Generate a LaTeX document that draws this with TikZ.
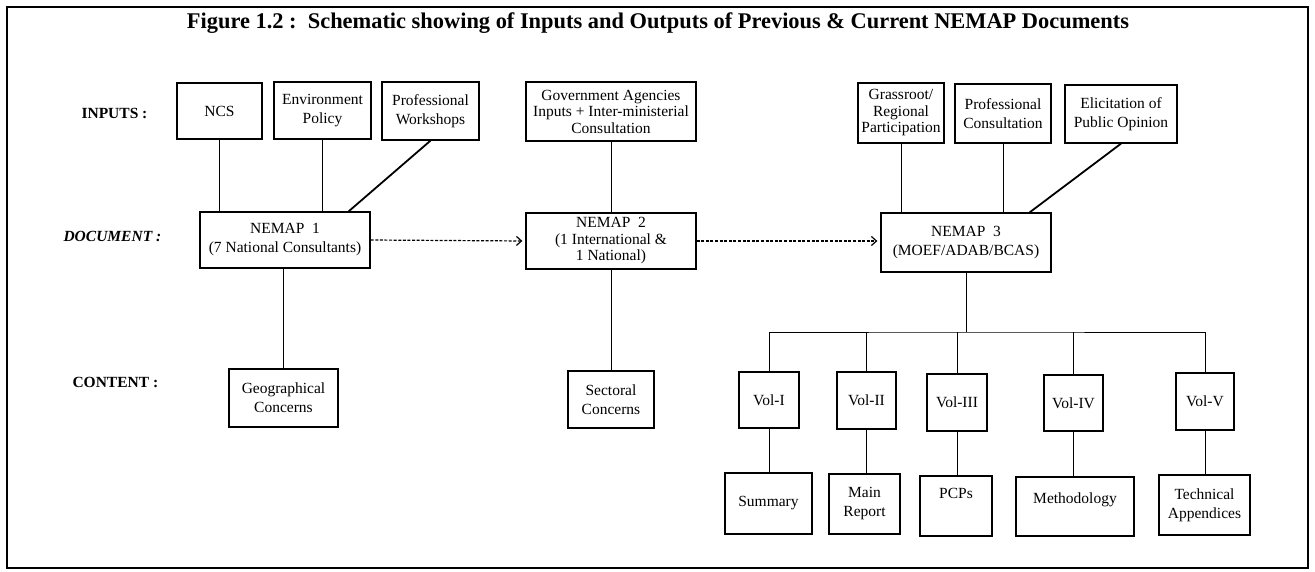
\documentclass[tikz,border=0pt]{standalone}
\usepackage{fontspec}
\setmainfont{Liberation Serif}
\usetikzlibrary{arrows.meta}

% box given by its corners: \boxat[opts]{name}{x1}{y1}{x2}{y2}{text};
\newcommand\boxat[6][]{%
  \node[box,#1,minimum width={#5-#3},minimum height={#6-#4}] (#2)
    at ({(#3+#5)/2},{(#4+#6)/2})}

\begin{document}
\begin{tikzpicture}[x=1pt,y=-1pt,
  box/.style={draw,line width=1.3pt,inner sep=0pt,align=center,
    font=\fontsize{15.5}{19}\selectfont},
  tight/.style={font=\fontsize{15.5}{16.5}\selectfont},
  link/.style={line width=1pt},
  slant/.style={line width=1.8pt},
  flow/.style={line width=1.2pt,dash pattern=on 3pt off 1.6pt,shorten >=3pt,
    -{Straight Barb[length=5pt,width=9pt,line width=1.2pt]}},
  rowlabel/.style={anchor=west,font=\fontsize{15.5}{18}\selectfont\bfseries}]

\useasboundingbox (0,0) rectangle (1315,571);
\draw[line width=1.5pt] (7,7) rectangle (1308,568);

\node[font=\fontsize{22.4}{26}\selectfont\bfseries] (title) at (658,23)
  {Figure 1.2 :\ \ Schematic showing of Inputs and Outputs of Previous \& Current NEMAP Documents};

% row labels
\node[rowlabel] (lin) at (78,113) {INPUTS :};
\node[rowlabel,font=\fontsize{15.5}{18}\selectfont\bfseries\itshape] (ldoc) at (60,236) {DOCUMENT :};
\node[rowlabel] (lcon) at (69,382) {CONTENT :};

% inputs
\boxat{ncs}{177}{83}{262}{139}{NCS};
\boxat{env}{274}{82}{371}{139}{Environment\\Policy};
\boxat{wshop}{382}{82}{479}{140}{Professional\\Workshops};
\boxat[tight]{gov}{526}{82}{696}{141}{Government Agencies\\Inputs + Inter-ministerial\\Consultation};
\boxat[tight]{grass}{858}{83}{944}{143}{Grassroot/\\Regional\\Participation};
\boxat{pcons}{955}{84}{1051}{143}{Professional\\Consultation};
\boxat{elicit}{1065}{85}{1177}{143}{Elicitation of\\Public Opinion};

% documents
\boxat{nemap1}{200}{212}{370}{268}{NEMAP\ \ 1\\(7 National Consultants)};
\boxat[tight]{nemap2}{526}{213}{696}{269}{NEMAP\ \ 2\\(1 International \&\\1 National)};
\boxat{nemap3}{881}{213}{1051}{272}{NEMAP\ \ 3\\(MOEF/ADAB/BCAS)};

% contents
\boxat{geo}{229}{369}{338}{427}{Geographical\\Concerns};
\boxat{sect}{568}{371}{654}{428}{Sectoral\\Concerns};
\boxat{v1}{739}{372}{799}{428}{Vol-I};
\boxat{v2}{837}{372}{896}{429}{Vol-II};
\boxat{v3}{927}{374}{987}{431}{Vol-III};
\boxat{v4}{1044}{375}{1103}{431}{Vol-IV};
\boxat{v5}{1176}{373}{1234}{430}{Vol-V};
\boxat{summ}{725}{473}{812}{534}{Summary};
\boxat{mainr}{829}{474}{900}{534}{Main\\Report};
\boxat[text depth=25pt]{pcps}{920}{476}{992}{536}{PCPs};
\boxat[text depth=17pt]{meth}{1016}{477}{1134}{536}{Methodology};
\boxat{tech}{1159}{475}{1250}{535}{Technical\\Appendices};

% inputs to documents
\draw[link] (ncs.south) -- (ncs.south |- nemap1.north);
\draw[link] (env.south) -- (env.south |- nemap1.north);
\draw[slant] (wshop.south) -- ([xshift=-22pt]nemap1.north east);
\draw[link] (gov.south) -- (gov.south |- nemap2.north);
\draw[link] (grass.south) -- (grass.south |- nemap3.north);
\draw[link] (pcons.south) -- (pcons.south |- nemap3.north);
\draw[slant] (elicit.south) -- ([xshift=-22pt]nemap3.north east);

% document sequence
\draw[flow] (nemap1.east) -- (nemap2.west);
\draw[flow] (nemap2.east) -- (nemap2.east -| nemap3.west);

% documents to contents
\draw[link] (nemap1.south -| geo.north) -- (geo.north);
\draw[link] (nemap2.south -| sect.north) -- (sect.north);
\coordinate (bus) at (966,332);
\draw[link] (nemap3.south) -- (nemap3.south |- bus);
\draw[link] (v1.north) |- (bus) -| (v5.north);
\draw[link] (v2.north) -- (v2.north |- bus);
\draw[link] (v3.north) -- (v3.north |- bus);
\draw[link] (v4.north) -- (v4.north |- bus);

% volumes to their parts
\draw[link] (v1.south) -- (v1.south |- summ.north);
\draw[link] (v2.south) -- (v2.south |- mainr.north);
\draw[link] (v3.south) -- (v3.south |- pcps.north);
\draw[link] (v4.south) -- (v4.south |- meth.north);
\draw[link] (v5.south) -- (v5.south |- tech.north);
\end{tikzpicture}
\end{document}
